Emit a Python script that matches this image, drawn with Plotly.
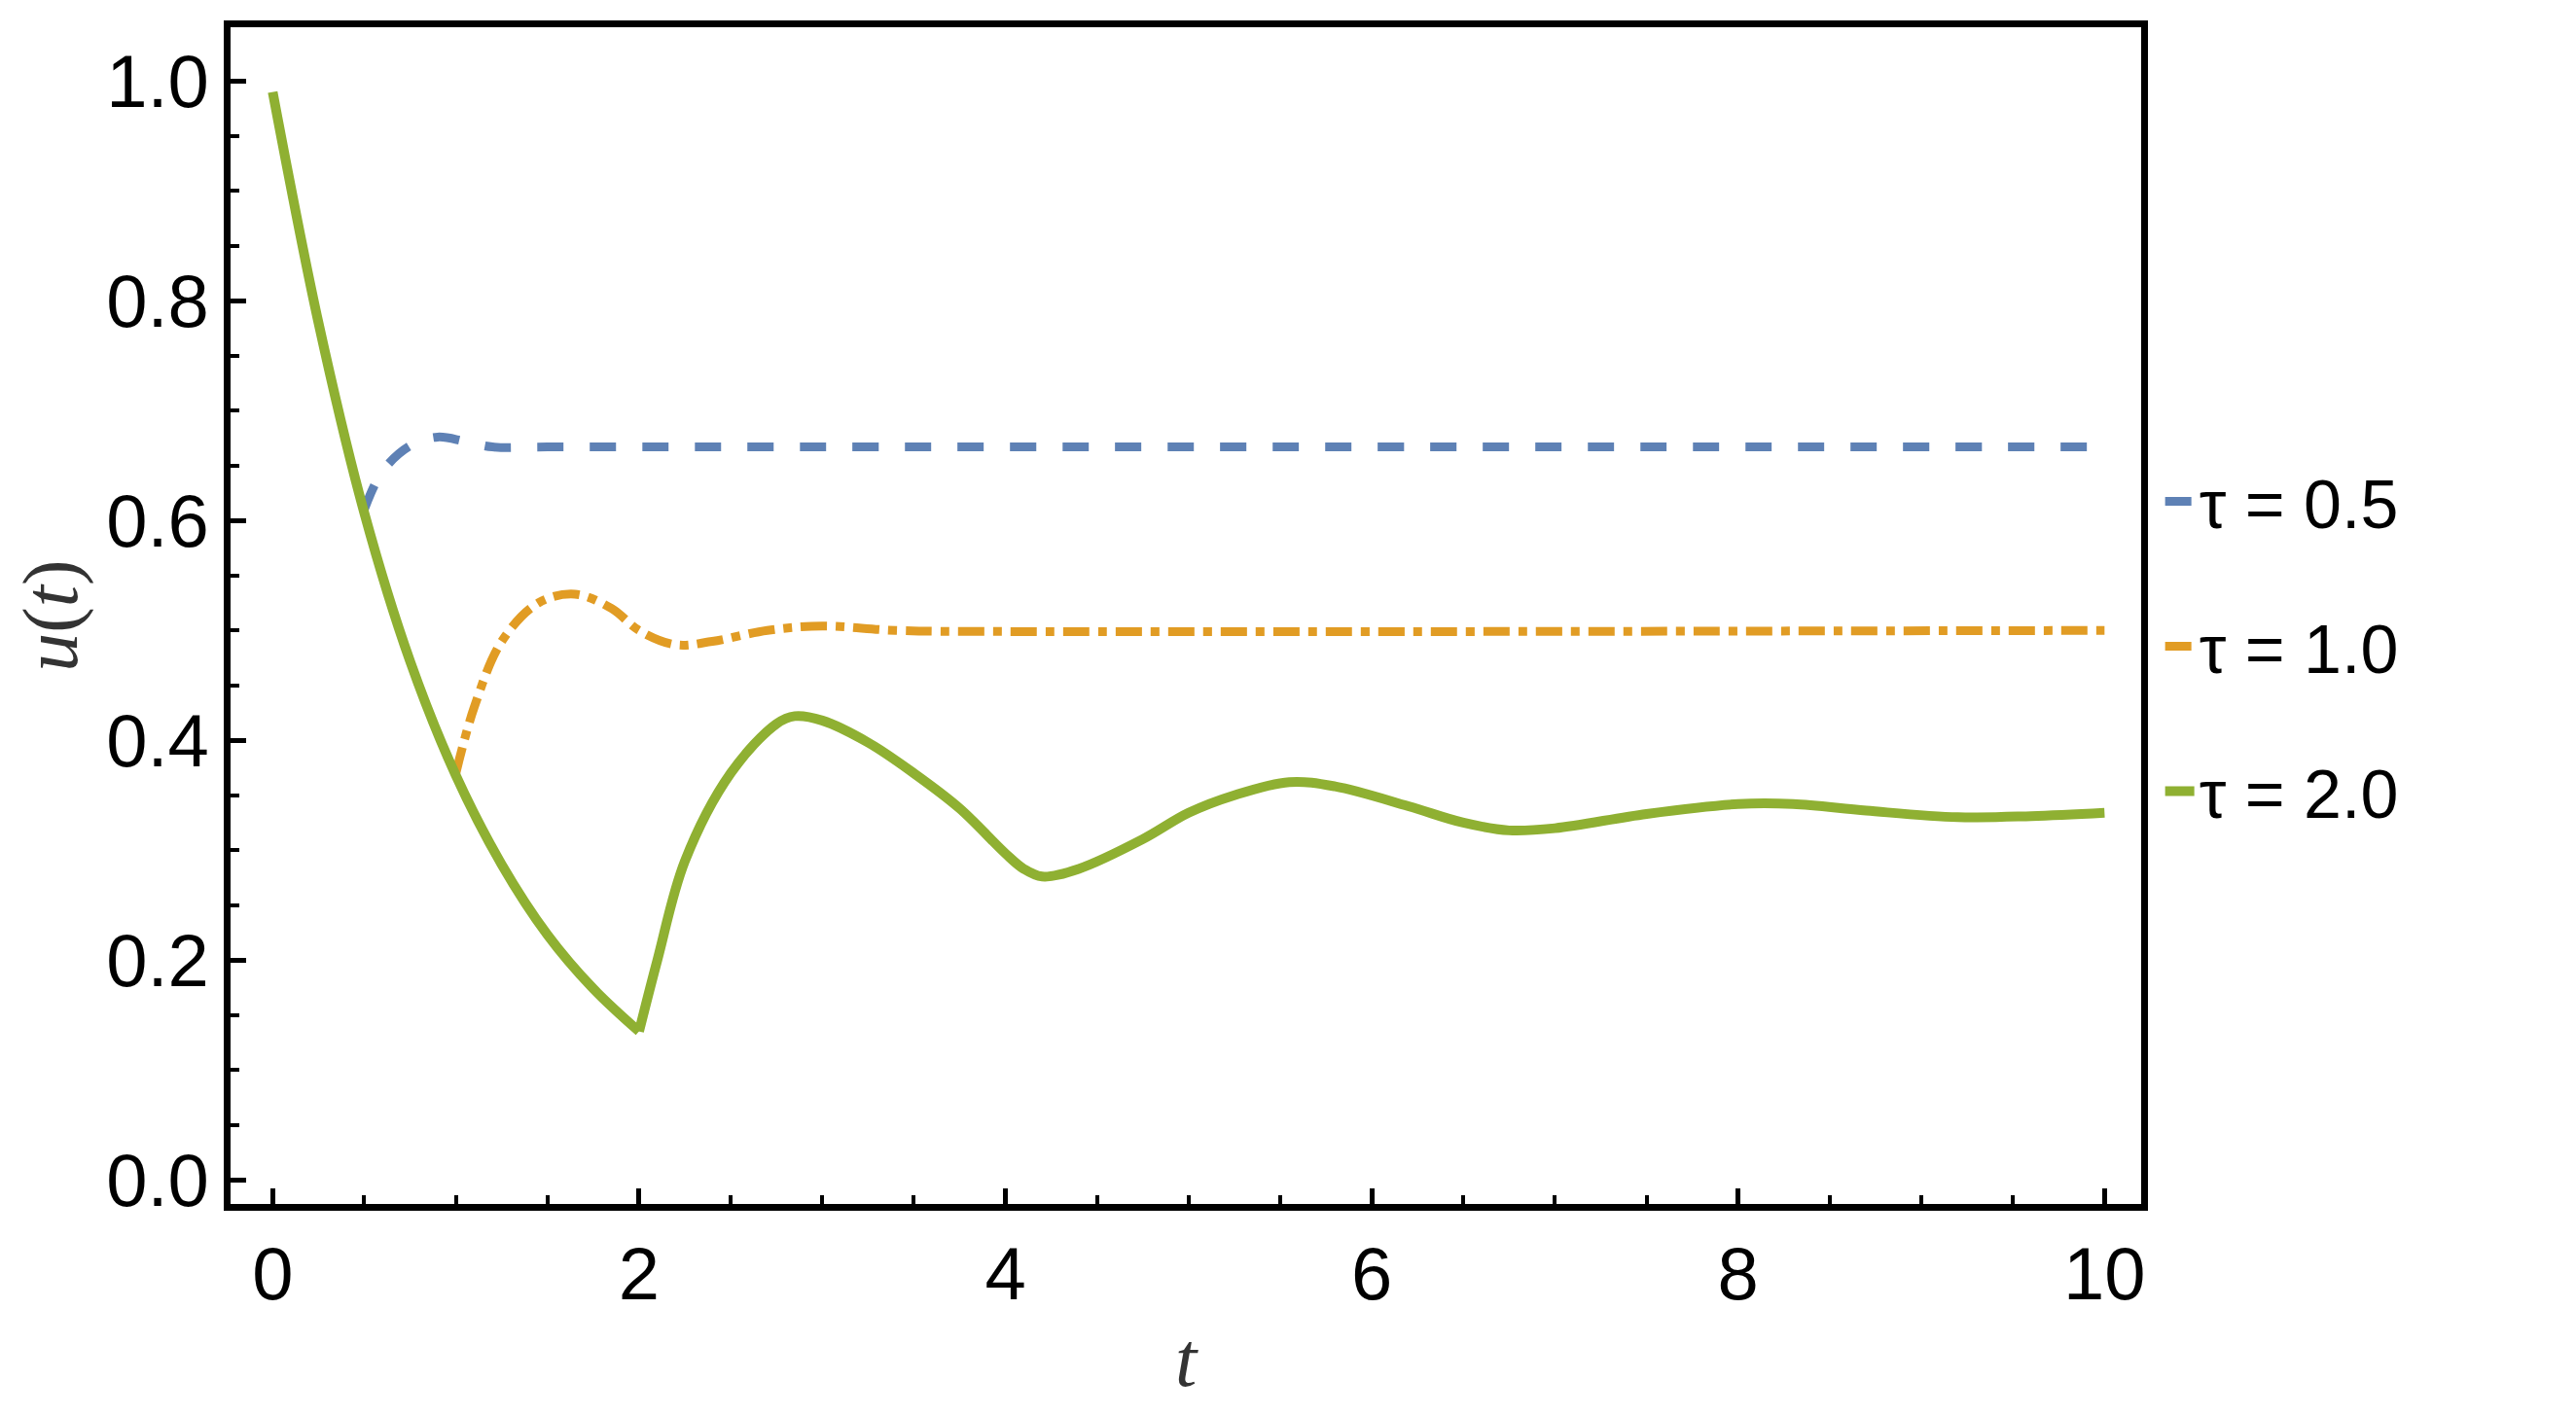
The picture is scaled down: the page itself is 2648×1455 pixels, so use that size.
import plotly.graph_objects as go

# values
t_green_a = [0, 0.25, 0.5, 0.75, 1.0, 1.25, 1.5, 1.75, 2.0]
u_green_a = [0.99, 0.78, 0.607, 0.472, 0.368, 0.287, 0.223, 0.174, 0.135]
t_green_b = [2.0, 2.1, 2.25, 2.5, 2.75, 2.85, 3.0, 3.25, 3.5, 3.75, 4.0, 4.1, 4.2, 4.4, 4.75,
             5.0, 5.25, 5.55, 5.8, 6.2, 6.5, 6.75, 7.0, 7.5, 8.0, 8.3, 8.7, 9.2, 9.6, 10.0]
u_green_b = [0.135, 0.2, 0.29, 0.37, 0.415, 0.422, 0.418, 0.398, 0.37, 0.338, 0.297, 0.283,
             0.276, 0.283, 0.31, 0.334, 0.35, 0.362, 0.358, 0.34, 0.325, 0.318, 0.32, 0.333,
             0.342, 0.342, 0.336, 0.33, 0.331, 0.334]

t_blue = [0.5, 0.6, 0.75, 0.9, 1.05, 1.2, 1.5, 3.0, 10.0]
u_blue = [0.61, 0.645, 0.668, 0.676, 0.672, 0.667, 0.667, 0.667, 0.667]

t_orange = [1.0, 1.1, 1.25, 1.45, 1.65, 1.85, 2.0, 2.2, 2.4, 2.7, 3.0, 3.4, 4.0, 10.0]
u_orange = [0.37, 0.43, 0.49, 0.525, 0.533, 0.52, 0.5, 0.487, 0.49, 0.5, 0.504, 0.5, 0.499, 0.5]

fig = go.Figure()
fig.add_trace(go.Scatter(x=t_blue, y=u_blue, mode="lines", name="τ = 0.5", legendgroup="a",
                         line=dict(color="#5E81B5", width=9, dash="dash", shape="spline")))
fig.add_trace(go.Scatter(x=t_orange, y=u_orange, mode="lines", name="τ = 1.0", legendgroup="b",
                         line=dict(color="#E19C24", width=9, dash="dashdot", shape="spline")))
fig.add_trace(go.Scatter(x=t_green_a, y=u_green_a, mode="lines", name="τ = 2.0", legendgroup="c",
                         line=dict(color="#8FB032", width=10, shape="spline")))
fig.add_trace(go.Scatter(x=t_green_b, y=u_green_b, mode="lines", name="τ = 2.0", legendgroup="c",
                         showlegend=False, line=dict(color="#8FB032", width=10, shape="spline")))

axis = dict(showgrid=False, zeroline=False, showline=True, linecolor="black", linewidth=7,
            mirror=True, ticks="inside", tickwidth=5, ticklen=16, tickcolor="black",
            tickfont=dict(family="Liberation Sans", size=76, color="black"))
fig.update_xaxes(axis, range=[-0.23, 10.2], tick0=0, dtick=2,
                 minor=dict(ticks="inside", dtick=0.5, ticklen=9, tickwidth=4, tickcolor="black"),
                 title=dict(text="<i>t</i>", standoff=20,
                            font=dict(family="Liberation Serif", size=80, color="#333")))
fig.update_yaxes(axis, range=[-0.022, 1.049], tick0=0, dtick=0.2, tickformat=".1f",
                 minor=dict(ticks="inside", dtick=0.05, ticklen=9, tickwidth=4, tickcolor="black"),
                 title=dict(text="<i>u</i>(<i>t</i>)", standoff=20,
                            font=dict(family="Liberation Serif", size=80, color="#333")))

fig.update_layout(
    width=2648, height=1455, plot_bgcolor="white", paper_bgcolor="white",
    margin=dict(l=229, r=455, t=20, b=225),
    legend=dict(x=1.01, y=0.64, xanchor="left", yanchor="top", tracegroupgap=55,
                font=dict(family="Liberation Sans", size=70, color="black")),
)
fig.write_html("out.html")
